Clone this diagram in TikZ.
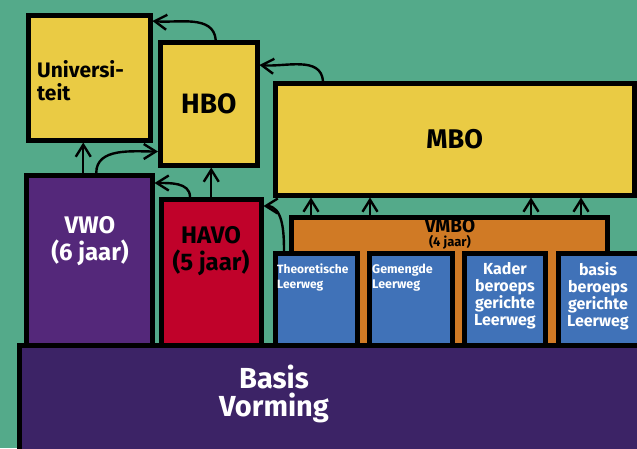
\documentclass[tikz,border=0pt]{standalone}
\usepackage{fontspec}
\setmainfont{Fira Sans}
\usetikzlibrary{positioning}
\usetikzlibrary{calc}
\usetikzlibrary{arrows.meta}

\definecolor{bggreen}{RGB}{84,170,138}
\definecolor{schoolyellow}{RGB}{234,203,68}
\definecolor{vwopurple}{RGB}{84,40,122}
\definecolor{havored}{RGB}{192,2,42}
\definecolor{vmboorange}{RGB}{208,122,37}
\definecolor{wegblue}{RGB}{64,114,184}
\definecolor{basepurple}{RGB}{60,35,102}

\tikzset{
  box/.style={draw=black, line width=4.5pt, anchor=north west, inner sep=0pt},
  flow/.style={line width=2.4pt, arrows={-Straight Barb[length=12pt,width=15pt]}},
  lbl/.style={inner sep=0pt, font=\bfseries},
}

\begin{document}
\begin{tikzpicture}[x=1pt,y=1pt]
                \clip (0,0) rectangle (637,-448);
                \fill[bggreen] (0,0) rectangle (637,-448);

                % vervolgopleidingen
                \node[box, fill=schoolyellow, minimum width=122pt, minimum height=125pt] (uni) at (26,-13) {};
                \node[box, fill=schoolyellow, minimum width=97pt, minimum height=123pt] (hbo) at (158,-40) {};
                \node[box, fill=schoolyellow, minimum width=359pt, minimum height=112pt] (mbo) at (273,-81) {};

                % voortgezet onderwijs
                \node[box, fill=vwopurple, minimum width=126pt, minimum height=170pt] (vwo) at (24,-173) {};
                \node[box, fill=havored, minimum width=100pt, minimum height=146pt] (havo) at (159,-197) {};
                \node[box, fill=vmboorange, minimum width=316pt, minimum height=128pt] (vmbo) at (289,-215) {};
                \node[box, fill=wegblue, minimum width=82pt, minimum height=92pt] (theo) at (273,-251) {};
                \node[box, fill=wegblue, minimum width=83pt, minimum height=92pt] (gem) at (367,-251) {};
                \node[box, fill=wegblue, minimum width=81pt, minimum height=92pt] (kader) at (462,-251) {};
                \node[box, fill=wegblue, minimum width=81pt, minimum height=92pt] (basisweg) at (556,-251) {};
                \node[box, fill=basepurple, minimum width=640pt, minimum height=130pt] (basis) at (17,-343) {};

                % teksten
                \node[lbl, anchor=west, align=left, font=\bfseries\fontsize{21}{23}\selectfont] (unitext) at (37,-81) {Universi-\\teit};
                \node[lbl, font=\bfseries\fontsize{28}{28}\selectfont] (hbotext) at (hbo) {HBO};
                \node[lbl, font=\bfseries\fontsize{27}{28}\selectfont] (mbotext) at (mbo) {MBO};
                \node[lbl, align=center, text=white, font=\bfseries\fontsize{24}{27}\selectfont] (vwotext) at (90,-241) {VWO\\(6 jaar)};
                \node[lbl, align=center, font=\bfseries\fontsize{24}{27}\selectfont] (havotext) at (211,-251) {HAVO\\(5 jaar)};
                \node[lbl, align=center, font=\bfseries\fontsize{19}{14}\selectfont] (vmbotext) at (450,-234) {VMBO\\{\fontsize{13}{13}\selectfont (4 jaar)}};
                \node[lbl, anchor=north west, align=left, text=white, font=\bfseries\fontsize{12}{15}\selectfont] (theotext) at (277,-264) {Theoretische\\Leerweg};
                \node[lbl, anchor=north west, align=left, text=white, font=\bfseries\fontsize{12.5}{15}\selectfont] (gemtext) at (372,-264) {Gemengde\\Leerweg};
                \node[lbl, anchor=north, align=center, text=white, font=\bfseries\fontsize{16}{17}\selectfont] (kadertext) at (505,-262) {Kader\\beroeps\\gerichte\\Leerweg};
                \node[lbl, anchor=north, align=center, text=white, font=\bfseries\fontsize{16}{17}\selectfont] (basiswegtext) at (598,-262) {basis\\beroeps\\gerichte\\Leerweg};
                \node[lbl, align=center, text=white, font=\bfseries\fontsize{29}{28}\selectfont] (basistext) at (274,-394) {Basis\\Vorming};

                % pijlen
                \draw[flow] ([xshift=7pt]hbo.north) to[out=95, in=-5] ([yshift=-8pt]uni.north east);
                \draw[flow] ([xshift=50pt]mbo.north west) to[out=95, in=-5] ([yshift=-25pt]hbo.north east);
                \draw[flow] ([xshift=-6pt]vwo.north) -- ([xshift=-6pt]uni.south);
                \draw[flow] ([xshift=7pt]vwo.north) to[out=90, in=180] ([yshift=16pt]hbo.south west);
                \draw[flow] ([xshift=31pt]havo.north west) to[out=90, in=0] ([yshift=-10pt]vwo.north east);
                \draw[flow] (havo.north) -- (havo.north |- hbo.south);
                \draw[flow] ([xshift=11pt]theo.north west) to[out=90, in=0] ([yshift=-9pt]havo.north east);
                \foreach \dx in {22,81,242,292}
                    \draw[flow] ([xshift=\dx pt]vmbo.north west) -- ([xshift=\dx pt]vmbo.north west |- mbo.south);
            \end{tikzpicture}
\end{document}
